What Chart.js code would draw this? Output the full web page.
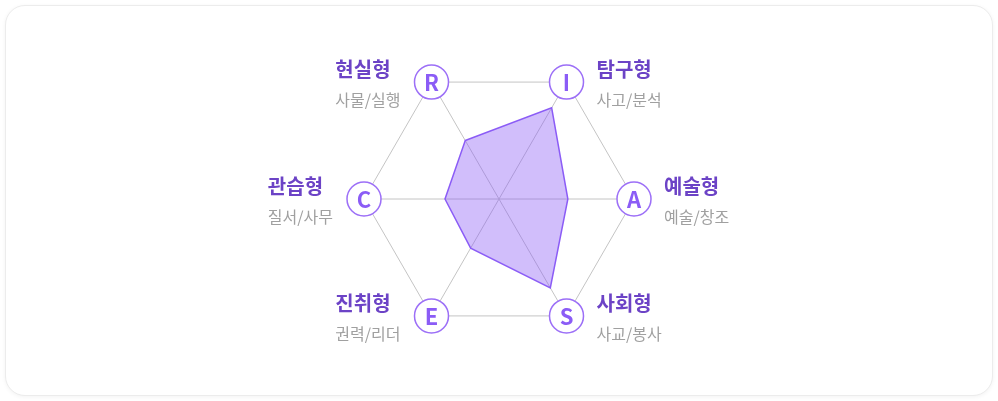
<!DOCTYPE html>
<html>
<head>
<meta charset="utf-8">
<script src="https://cdn.jsdelivr.net/npm/chart.js@4/dist/chart.umd.min.js"></script>
<style>
    html, body { margin: 0; padding: 0; background: #ffffff; }
    body { width: 998px; height: 401px; position: relative; overflow: hidden; }
    #card {
        position: absolute; left: 5px; top: 5px; width: 986px; height: 389px;
        border: 1px solid #ececec; border-radius: 20px; background: #fff;
        box-shadow: 0 1px 4px rgba(0, 0, 0, 0.05);
    }
    #chart-wrap { position: absolute; left: 0; top: 0; width: 986px; height: 389px; }
</style>
</head>
<body>
<div id="card"><div id="chart-wrap"><canvas id="canvas-chart"></canvas></div></div>
<script>
// RIASEC codes, clockwise from top-left
let codes = ['R', 'I', 'A', 'S', 'E', 'C'];
let type_names = ['현실형', '탐구형', '예술형', '사회형', '진취형', '관습형'];
let type_desc = ['사물/실행', '사고/분석', '예술/창조', '사교/봉사', '권력/리더', '질서/사무'];
let scores = [50, 78, 51, 76, 42, 40];

const font_family = "'Noto Sans CJK KR', 'Noto Sans', sans-serif";
const purple = '#8b5cf6';

let label_plugin = {
    id: 'riasec-labels',
    afterDraw(chart) {
        let ctx = chart.ctx;
        let scale = chart.scales.r;
        ctx.save();
        for (let i = 0; i < codes.length; i++) {
            let pos = scale.getPointPosition(i, scale.drawingArea);

            // circle badge
            ctx.beginPath();
            ctx.arc(pos.x, pos.y, 17, 0, Math.PI * 2);
            ctx.fillStyle = '#ffffff';
            ctx.fill();
            ctx.lineWidth = 1.5;
            ctx.strokeStyle = '#9c6ff7';
            ctx.stroke();

            ctx.fillStyle = purple;
            ctx.font = "700 22px " + font_family;
            ctx.textAlign = 'center';
            ctx.textBaseline = 'middle';
            ctx.fillText(codes[i], pos.x, pos.y + 1);

            // name + description
            ctx.textAlign = 'left';
            ctx.font = "700 20px " + font_family;
            let w1 = ctx.measureText(type_names[i]).width;
            ctx.font = "400 16px " + font_family;
            let w2 = ctx.measureText(type_desc[i]).width;
            let block_w = Math.max(w1, w2);
            let x = pos.x > scale.xCenter + 1 ? pos.x + 30 : pos.x - 31 - block_w;

            ctx.fillStyle = '#6c43c6';
            ctx.font = "700 20px " + font_family;
            ctx.fillText(type_names[i], x, pos.y - 13);

            ctx.fillStyle = '#a0a0a0';
            ctx.font = "400 16px " + font_family;
            ctx.fillText(type_desc[i], x, pos.y + 18);
        }
        ctx.restore();
    }
};

let canvas_chart = document.getElementById('canvas-chart');

let chart_data = {
    labels: codes,
    datasets: [
        {
            data: scores,
            borderColor: purple,
            backgroundColor: 'rgba(139, 92, 246, 0.4)',
            borderWidth: 1.5,
            pointRadius: 0,
            fill: true
        }
    ]
};

let option = {
    responsive: true,
    maintainAspectRatio: false,
    animation: false,
    layout: { padding: { top: 58, bottom: 60 } },
    plugins: {
        legend: { display: false },
        tooltip: { enabled: false }
    },
    scales: {
        r: {
            min: 0,
            max: 100,
            startAngle: -30,
            ticks: { display: false, stepSize: 100 },
            pointLabels: { display: false },
            grid: { color: '#c4c4c4', lineWidth: 1 },
            angleLines: { color: '#c4c4c4', lineWidth: 1 }
        }
    }
};

let radar_chart = new Chart(canvas_chart.getContext('2d'), {
    type: 'radar',
    data: chart_data,
    options: option,
    plugins: [label_plugin]
});
</script>
</body>
</html>
